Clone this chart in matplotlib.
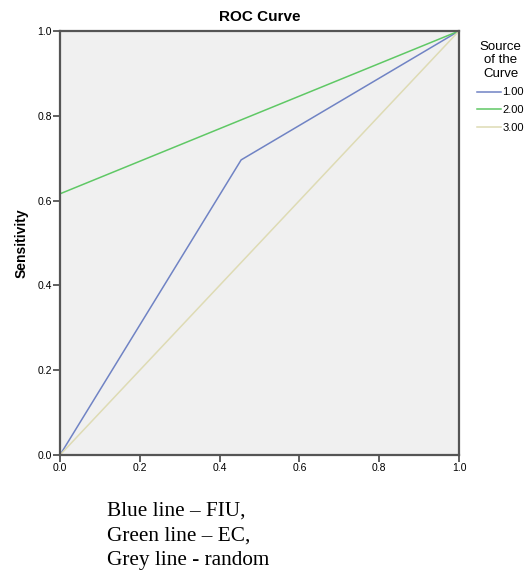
import matplotlib
matplotlib.use("Agg")
import matplotlib.pyplot as plt

# ROC points (1 - specificity, sensitivity)
fiu_x = [0.0, 0.454, 1.0]
fiu_y = [0.0, 0.696, 1.0]
ec_x = [0.0, 0.0, 1.0]
ec_y = [0.0, 0.616, 1.0]
ref_x = [0.0, 1.0]
ref_y = [0.0, 1.0]
labels = ["1.00", "2.00", "3.00"]
ticks = [0.0, 0.2, 0.4, 0.6, 0.8, 1.0]

plt.rcParams['font.family'] = ['Liberation Sans', 'DejaVu Sans']

fig = plt.figure(figsize=(5.27, 5.75), dpi=100)
ax = fig.add_axes([60 / 527, 1 - 455 / 575, 399 / 527, 424 / 575])
ax.set_facecolor('#f0f0f0')

ax.plot(fiu_x, fiu_y, color='#7083c4', lw=1.1, label=labels[0])
ax.plot(ec_x, ec_y, color='#5fc865', lw=1.1, label=labels[1])
ax.plot(ref_x, ref_y, color='#dedbb4', lw=1.1, label=labels[2])

ax.set_xlim(0, 1)
ax.set_ylim(0, 1)
ax.set_xticks(ticks)
ax.set_yticks(ticks)
ax.set_xticklabels([f"{t:.1f}" for t in ticks], fontsize=7.5)
ax.set_yticklabels([f"{t:.1f}" for t in ticks], fontsize=7.5)
ax.tick_params(direction='out', length=5, width=1.2, color='#444444', pad=1)
for s in ax.spines.values():
    s.set_color('#555555')
    s.set_linewidth(1.6)

ax.set_title("ROC Curve", fontsize=11, fontweight='bold', pad=7)
ax.set_ylabel("Sensitivity", fontsize=10, fontweight='bold', labelpad=6)

leg = ax.legend(title="Source\nof the\nCurve", loc='upper left',
                bbox_to_anchor=(1.02, 1.0), frameon=False, fontsize=8,
                title_fontsize=9.5, handlelength=2.2, handletextpad=0.1,
                labelspacing=0.7)
leg.get_title().set_multialignment('center')
leg.get_title().set_linespacing(1.15)

fig.text(107 / 527, 1 - 536 / 575,
         "Blue line \u2013 FIU,\nGreen line \u2013 EC,\nGrey line - random",
         family=['Liberation Serif', 'DejaVu Serif'], fontsize=15.3,
         va='center', ha='left', linespacing=1.4)

fig.savefig("out.png", dpi=100)
